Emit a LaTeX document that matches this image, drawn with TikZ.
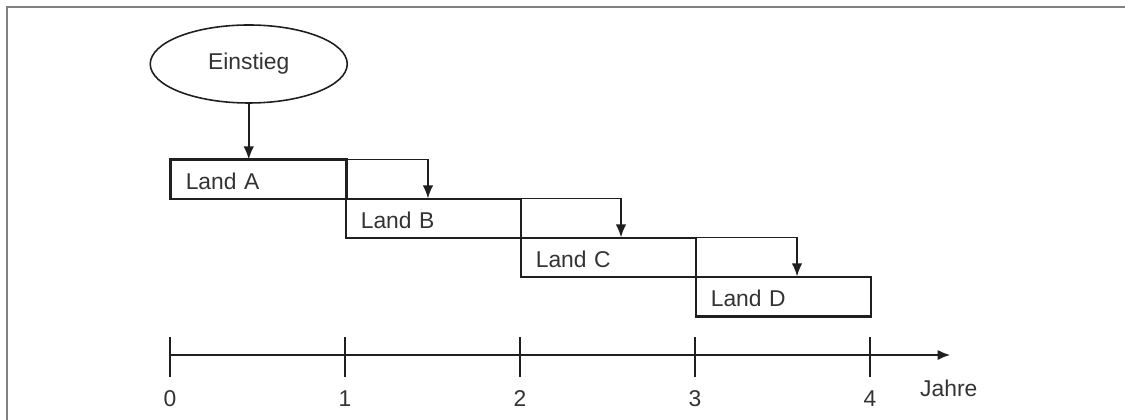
\documentclass[tikz,border=0pt]{standalone}
\usepackage{fontspec}
\setmainfont{Liberation Sans}
\usetikzlibrary{shapes.geometric,arrows.meta}
\definecolor{rahmen}{gray}{0.5}
\definecolor{schrift}{gray}{0.2}
\definecolor{linie}{gray}{0.12}
\tikzstyle{land}=[draw=linie, minimum height=0.78cm, text width=2.9cm, inner xsep=0.3cm, align=left, anchor=south west, line width=0.9pt, text height=2.2ex, text depth=0pt]
\tikzstyle{pfeil}=[draw=linie, -{Latex[length=2.6mm,width=2.1mm]}, line width=0.9pt]
\tikzstyle{dick}=[draw=linie, line width=1.4pt]

\begin{document}
\begin{tikzpicture}[x=3.5cm, y=1cm, font=\fontsize{13}{15}\selectfont, text=schrift]
\useasboundingbox (-0.9714,-1.28) rectangle (5.457,7.1);
\draw[rahmen, line width=1.3pt] (5.5,6.96) -- (-0.931,6.96) -- (-0.931,-1.3);

\node[draw=linie, ellipse, minimum width=3.94cm, minimum height=1.56cm, line width=0.9pt] (einstieg) at (0.45,5.82) {Einstieg};

\foreach \n/\k in {A/0,B/1,C/2,D/3}
{
\node[land] (land\n) at (\k,{0.76+(3-\k)*0.78}) {Land \n};
}
\draw[dick] (landA.south west) -- (landA.north west) -- (landA.north east) -- (landA.south east);
\draw[dick] (landD.south west) -- (landD.south east);

\draw[pfeil] (einstieg.south) -- (einstieg.south |- landA.north);
\foreach \a/\b/\d in {A/B/0.474,B/C/0.577,C/D/0.583}
{
\draw[pfeil] (land\a.north east) -| ([xshift=\d*3.5cm]land\b.north west);
}

\coordinate (start) at (0,0);
\coordinate (ende) at (4.46,0);
\draw[pfeil, line width=1.5pt] (start) -- (ende);
\foreach \j in {0,...,4}
{
\draw[linie, line width=0.9pt] (\j,0.36) -- (\j,-0.44);
\node (jahr\j) at (\j,-0.88) {\j};
}
\node (jahre) at (4.45,-0.66) {Jahre};
\end{tikzpicture}
\end{document}
